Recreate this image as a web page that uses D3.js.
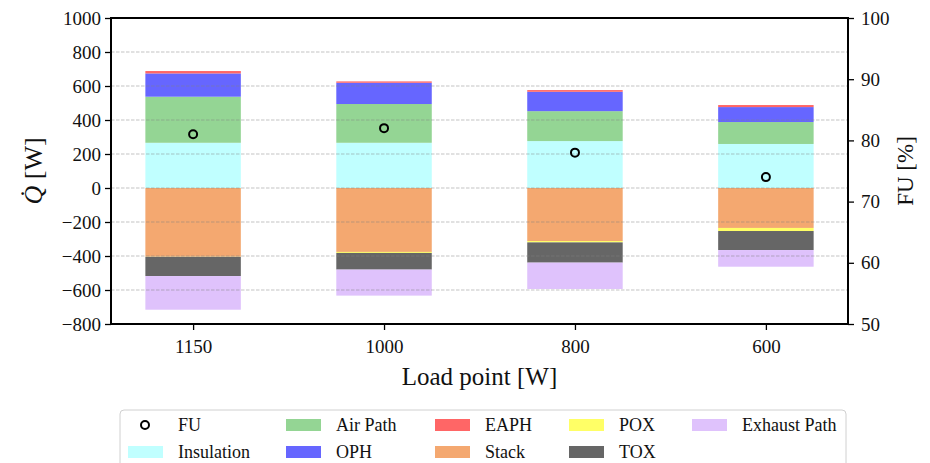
<!DOCTYPE html>
<html>
<head>
<meta charset="utf-8">
<script src="https://cdn.jsdelivr.net/npm/d3@7"></script>
<style>
  body { margin: 0; background: #fff; }
  svg text { font-family: "Liberation Serif", "DejaVu Serif", serif; fill: #111; }
</style>
</head>
<body>
<div id="chart"></div>
<script>
// load points and heat flows [W] per component
var loadPoints = ["1150", "1000", "800", "600"];
var insulation = [266, 266, 276, 259];
var airPath = [271, 228, 176, 129];
var oph = [137, 125, 114, 88];
var eaph = [14, 8, 10, 12];
var stackLoss = [-404, -376, -312, -235];
var pox = [-1, -6, -8, -18];
var tox = [-113, -98, -119, -112];
var exhaustPath = [-198, -153, -155, -98];
var fu = [81, 82, 78, 74];

var qTicks = [-800, -600, -400, -200, 0, 200, 400, 600, 800, 1000];
var fuTicks = [50, 60, 70, 80, 90, 100];

var series = [
    { key: "Insulation", values: insulation, color: "#c0ffff" },
    { key: "Air Path", values: airPath, color: "#94d594" },
    { key: "OPH", values: oph, color: "#6666ff" },
    { key: "EAPH", values: eaph, color: "#ff6666" },
    { key: "Stack", values: stackLoss, color: "#f4a870" },
    { key: "POX", values: pox, color: "#ffff66" },
    { key: "TOX", values: tox, color: "#666666" },
    { key: "Exhaust Path", values: exhaustPath, color: "#dfc2fc" }
];

var width = 930, height = 463;
var margin = { top: 18, right: 82, bottom: 139, left: 111 };
var innerW = width - margin.left - margin.right,
    innerH = height - margin.top - margin.bottom;

var table = loadPoints.map(function (lp, i) {
    var row = { load: lp };
    series.forEach(function (s) { row[s.key] = s.values[i]; });
    return row;
});

var stacked = d3.stack()
    .keys(series.map(function (s) { return s.key; }))
    .offset(d3.stackOffsetDiverging)(table);

var x = d3.scalePoint().domain(loadPoints).range([0, innerW]).padding(0.43);
var y = d3.scaleLinear().domain([-800, 1000]).range([innerH, 0]);
var y2 = d3.scaleLinear().domain([50, 100]).range([innerH, 0]);
var barW = x.step() * 0.5;

var svg = d3.select("#chart").append("svg")
    .attr("width", width).attr("height", height);
var chart = svg.append("g")
    .attr("transform", "translate(" + margin.left + "," + margin.top + ")");

// bars
chart.selectAll(".layer")
    .data(stacked)
    .enter().append("g")
    .attr("class", "layer")
    .attr("fill", function (d, i) { return series[i].color; })
    .selectAll("rect")
    .data(function (d) { return d; })
    .enter().append("rect")
    .attr("x", function (d) { return x(d.data.load) - barW / 2; })
    .attr("width", barW)
    .attr("y", function (d) { return y(Math.max(d[0], d[1])); })
    .attr("height", function (d) { return Math.abs(y(d[0]) - y(d[1])); });

// grid (drawn on top, like the original)
chart.selectAll(".grid")
    .data(qTicks.filter(function (t) { return t > -800 && t < 1000; }))
    .enter().append("line")
    .attr("class", "grid")
    .attr("x1", 0).attr("x2", innerW)
    .attr("y1", function (d) { return y(d); })
    .attr("y2", function (d) { return y(d); })
    .attr("stroke", "#808080").attr("stroke-opacity", 0.6)
    .attr("stroke-width", 0.8).attr("stroke-dasharray", "3.5,1.5");

// FU markers
chart.selectAll(".fu")
    .data(fu)
    .enter().append("circle")
    .attr("class", "fu")
    .attr("cx", function (d, i) { return x(loadPoints[i]); })
    .attr("cy", function (d) { return y2(d); })
    .attr("r", 4)
    .attr("fill", "none").attr("stroke", "#000").attr("stroke-width", 2);

function fmt(d) { return d < 0 ? "\u2212" + Math.abs(d) : String(d); }

// axes
var left = chart.append("g")
    .call(d3.axisLeft(y).tickValues(qTicks).tickFormat(fmt).tickSize(6).tickPadding(4));
var right = chart.append("g")
    .attr("transform", "translate(" + innerW + ",0)")
    .call(d3.axisRight(y2).tickValues(fuTicks).tickSize(6).tickPadding(7));
var bottom = chart.append("g")
    .attr("transform", "translate(0," + innerH + ")")
    .call(d3.axisBottom(x).tickSize(6).tickPadding(10));

[left, right, bottom].forEach(function (g) {
    g.attr("font-family", "Liberation Serif").attr("font-size", 19);
    g.select(".domain").remove();
    g.selectAll(".tick line").attr("stroke", "#000").attr("stroke-width", 1.3);
    g.selectAll(".tick text").attr("fill", "#111");
});

// frame
chart.append("rect")
    .attr("width", innerW).attr("height", innerH)
    .attr("fill", "none").attr("stroke", "#000").attr("stroke-width", 2);

// axis labels
var ql = svg.append("text")
    .attr("transform", "translate(42," + (margin.top + innerH / 2) + ") rotate(-90)")
    .attr("text-anchor", "middle")
    .style("font-size", "26px");
ql.append("tspan").style("font-style", "italic").text("Q\u0307");
ql.append("tspan").text(" [W]");

svg.append("text")
    .attr("transform", "translate(913," + (margin.top + innerH / 2) + ") rotate(-90)")
    .attr("text-anchor", "middle")
    .style("font-size", "23px")
    .text("FU [%]");

svg.append("text")
    .attr("x", margin.left + innerW / 2).attr("y", 385)
    .attr("text-anchor", "middle")
    .style("font-size", "25px")
    .text("Load point [W]");

// legend
var legend = svg.append("g");
legend.append("rect")
    .attr("x", 120).attr("y", 410).attr("width", 726).attr("height", 62)
    .attr("rx", 4).attr("fill", "#fff").attr("stroke", "#d0d0d0");

var legendItems = [{ key: "FU", marker: true }].concat(series);
var colX = [128, 286, 435, 569, 692], rowY = [425, 452];
legendItems.forEach(function (d, i) {
    var cx = colX[Math.floor(i / 2)], cy = rowY[i % 2];
    if (d.marker) {
        legend.append("circle").attr("cx", cx + 17).attr("cy", cy).attr("r", 4)
            .attr("fill", "none").attr("stroke", "#000").attr("stroke-width", 2);
    } else {
        legend.append("rect").attr("x", cx).attr("y", cy - 6)
            .attr("width", 35).attr("height", 12).attr("fill", d.color);
    }
    legend.append("text").attr("x", cx + 50).attr("y", cy + 6)
        .style("font-size", "18px").text(d.key);
});
</script>
</body>
</html>
